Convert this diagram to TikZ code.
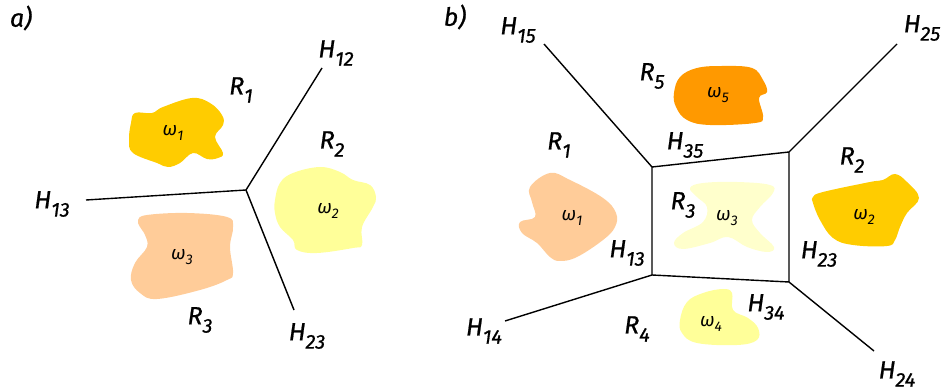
\documentclass[tikz,border=0pt]{standalone}
\usepackage{fontspec}
\setmainfont{Fira Sans}
\newfontfamily\labfont{Fira Sans}[FakeBold=0.8]
\usetikzlibrary{positioning}
\definecolor{gold}{HTML}{FFCC00}
\definecolor{paleyellow}{HTML}{FFFF99}
\definecolor{peach}{HTML}{FFCC99}
\definecolor{deeporange}{HTML}{FF9900}
\definecolor{cream}{HTML}{FFFFCC}
\newcommand{\lab}[2]{#1\raisebox{-0.33em}{\fontsize{10}{10}\selectfont #2}}
\newcommand{\cls}[1]{ω\raisebox{-0.3em}{\fontsize{7}{7}\selectfont #1}}

\begin{document}
\begin{tikzpicture}[x=0.5pt, y=-0.5pt,
  bound/.style={line width=0.7pt, draw=black},
  region/.style={font=\labfont\fontsize{12.5}{14}\selectfont\itshape, inner sep=0pt},
  classlbl/.style={font=\fontsize{9.5}{11}\selectfont\itshape, inner sep=0pt},
  blob/.style={smooth cycle, tension=0.65}
]
\useasboundingbox (0,0) rectangle (944,390);

% panel a
\node[region] (tagA) at (21,18) {a)};
\fill[gold, blob] plot coordinates {(135,113) (152,113) (163,107) (192,98) (210,103)
  (222,115) (223,125) (215,137) (223,153) (218,158) (207,159) (193,153) (180,163)
  (168,167) (157,163) (133,153) (129,140) (131,123)};
\fill[paleyellow, blob] plot coordinates {(275,200) (280,183) (293,173) (320,167)
  (340,172) (353,180) (370,185) (376,197) (373,207) (362,227) (362,245) (353,248)
  (317,253) (297,250) (293,240) (280,227) (275,213)};
\fill[peach, blob] plot coordinates {(138,220) (147,215) (187,213) (227,217) (233,227)
  (230,247) (233,273) (227,280) (200,290) (157,299) (140,293) (131,280) (135,263)
  (147,247) (145,235) (140,227)};
\node[classlbl] (wa1) at (173,133) {\cls{1}};
\node[classlbl] (wa2) at (328,211) {\cls{2}};
\node[classlbl] (wa3) at (182,257) {\cls{3}};

\coordinate (ja) at (246,190);
\coordinate (ea12) at (322,68);
\coordinate (ea13) at (86,200);
\coordinate (ea23) at (294,310);
\draw[bound] (ja) -- (ea12);
\draw[bound] (ja) -- (ea13);
\draw[bound] (ja) -- (ea23);

\node[region] (ha12) at (336,53) {\lab{H}{12}};
\node[region] (ha13) at (52,204) {\lab{H}{13}};
\node[region] (ha23) at (307,336) {\lab{H}{23}};
\node[region] (ra1) at (241,90) {\lab{R}{1}};
\node[region] (ra2) at (332,144) {\lab{R}{2}};
\node[region] (ra3) at (200,320) {\lab{R}{3}};

% panel b
\node[region] (tagB) at (455,17) {b)};
\fill[deeporange, blob] plot coordinates {(674,93) (680,77) (697,68) (723,66) (752,68)
  (763,80) (767,92) (759,98) (763,117) (755,123) (710,125) (687,120) (676,107)};
\fill[peach, blob] plot coordinates {(530,187) (550,173) (570,180) (603,198) (616,213)
  (615,227) (603,240) (577,257) (560,261) (550,257) (537,243) (522,233) (520,222)
  (535,217) (532,202)};
\fill[cream, blob] plot coordinates {(690,188) (703,183) (737,182) (770,185) (773,193)
  (760,207) (752,220) (760,233) (774,247) (767,252) (747,247) (728,237) (710,243)
  (683,249) (674,243) (683,233) (703,222) (707,207) (697,197)};
\fill[gold, blob] plot coordinates {(813,197) (823,192) (870,182) (883,180) (895,174)
  (907,182) (919,198) (907,213) (900,227) (895,240) (887,246) (853,245) (833,238)
  (820,220) (813,203)};
\fill[paleyellow, blob] plot coordinates {(680,320) (687,302) (703,293) (723,289)
  (732,293) (733,310) (748,318) (758,328) (757,340) (737,345) (697,343) (682,333)};
\node[classlbl] (wb5) at (718,95) {\cls{5}};
\node[classlbl] (wb1) at (572,218) {\cls{1}};
\node[classlbl] (wb3) at (727,218) {\cls{3}};
\node[classlbl] (wb2) at (864,217) {\cls{2}};
\node[classlbl] (wb4) at (711,324) {\cls{4}};

\coordinate (tl) at (652,167);
\coordinate (tr) at (789,152);
\coordinate (br) at (789,282);
\coordinate (bl) at (652,275);
\coordinate (eb15) at (544,44);
\coordinate (eb25) at (897,44);
\coordinate (eb14) at (505,321);
\coordinate (eb24) at (874,351);
\draw[bound] (tl) -- (tr) -- (br) -- (bl) -- cycle;
\draw[bound] (tl) -- (eb15);
\draw[bound] (tr) -- (eb25);
\draw[bound] (bl) -- (eb14);
\draw[bound] (br) -- (eb24);

\node[region] (hb15) at (518,30) {\lab{H}{15}};
\node[region] (hb25) at (922,28) {\lab{H}{25}};
\node[region] (hb14) at (484,331) {\lab{H}{14}};
\node[region] (hb24) at (897,374) {\lab{H}{24}};
\node[region] (hb35) at (685,145) {\lab{H}{35}};
\node[region] (hb13) at (627,253) {\lab{H}{13}};
\node[region] (hb23) at (819,254) {\lab{H}{23}};
\node[region] (hb34) at (766,307) {\lab{H}{34}};
\node[region] (rb1) at (559,145) {\lab{R}{1}};
\node[region] (rb5) at (652,76) {\lab{R}{5}};
\node[region] (rb2) at (852,160) {\lab{R}{2}};
\node[region] (rb3) at (683,205) {\lab{R}{3}};
\node[region] (rb4) at (637,329) {\lab{R}{4}};
\end{tikzpicture}
\end{document}
